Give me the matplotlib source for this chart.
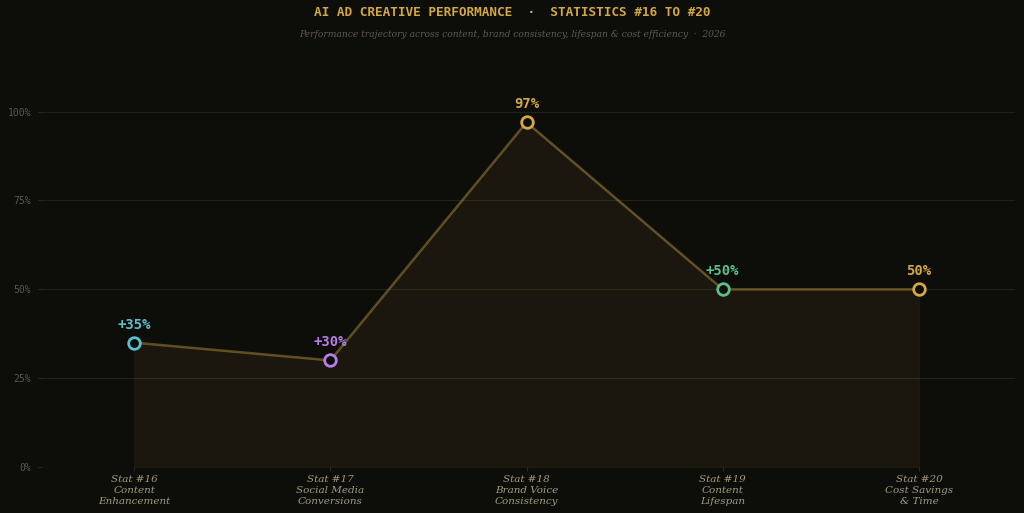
import matplotlib.pyplot as plt

# stats shown on the chart
stat_labels = ['Stat #16\nContent\nEnhancement',
               'Stat #17\nSocial Media\nConversions',
               'Stat #18\nBrand Voice\nConsistency',
               'Stat #19\nContent\nLifespan',
               'Stat #20\nCost Savings\n& Time']
values = [35, 30, 97, 50, 50]
value_text = ['+35%', '+30%', '97%', '+50%', '50%']
point_colors = ['#5bbfcc', '#b57ee4', '#d4a843', '#5cbf8a', '#d4a843']

y_ticks = [0, 25, 50, 75, 100]
y_tick_labels = ['0%', '25%', '50%', '75%', '100%']

bg = '#0d0d0a'
gold = '#d4a843'

fig = plt.figure(figsize=(10.24, 5.13), dpi=100, facecolor=bg)
ax = fig.add_axes([42 / 1024, 46 / 513, 973 / 1024, 398 / 513])
ax.set_facecolor(bg)

xs = list(range(len(values)))

# filled area under the line
ax.fill_between(xs, values, 0, facecolor=gold, alpha=0.07, edgecolor=gold, linewidth=0.6)
ax.plot(xs, values, color=gold, alpha=0.4, linewidth=1.8, zorder=3)

for x, v, c, t in zip(xs, values, point_colors, value_text):
    ax.scatter([x], [v], s=70, facecolor=bg, edgecolor=c, linewidth=2, zorder=5)
    ax.annotate(t, (x, v), xytext=(0, 8), textcoords='offset points',
                ha='center', va='bottom', color=c, fontsize=10,
                fontweight='bold', family='DejaVu Sans Mono')

ax.set_xlim(-0.47, 4.49)
ax.set_ylim(0, 112)

ax.set_yticks(y_ticks)
ax.set_yticklabels(y_tick_labels, family='DejaVu Sans Mono', fontsize=7, color='#5a574c')
ax.set_xticks(xs)
ax.set_xticklabels(stat_labels, family='DejaVu Serif', style='italic', fontsize=7.5,
                   color='#a39a7e', linespacing=1.25)
ax.tick_params(axis='both', length=3, color='#2a2820', pad=3)
ax.tick_params(axis='y', pad=5)
ax.grid(axis='y', color='#2a2a1e', linewidth=0.8, alpha=0.7)
ax.set_axisbelow(True)
for s in ax.spines.values():
    s.set_visible(False)

fig.text(0.5, 1 - 13 / 513, 'AI AD CREATIVE PERFORMANCE  \u00b7  STATISTICS #16 TO #20',
         ha='center', va='center', color=gold, fontsize=9.2, fontweight='bold',
         family='DejaVu Sans Mono')
fig.text(0.5, 1 - 35 / 513,
         'Performance trajectory across content, brand consistency, lifespan & cost efficiency  \u00b7  2026',
         ha='center', va='center', color='#5f5a4c', fontsize=6.6, style='italic',
         family='DejaVu Serif')

fig.savefig('out.png', dpi=100, facecolor=bg)
